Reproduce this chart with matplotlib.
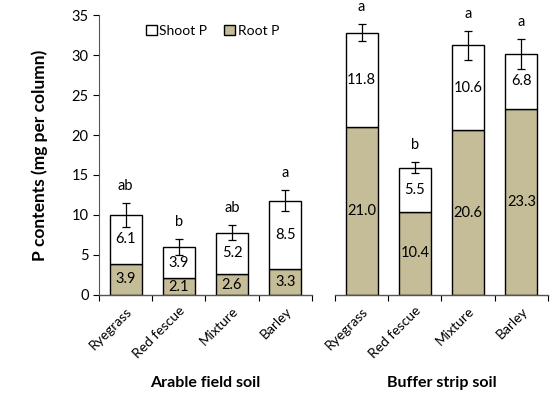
import matplotlib
matplotlib.use("Agg")
import matplotlib.pyplot as plt
from matplotlib.patches import Patch
from matplotlib.transforms import ScaledTranslation

plt.rcParams['font.family'] = ['Lato', 'DejaVu Sans']

categories = ["Ryegrass", "Red fescue", "Mixture", "Barley"]
arable_root = [3.9, 2.1, 2.6, 3.3]
arable_shoot = [6.1, 3.9, 5.2, 8.5]
arable_err = [1.5, 1.0, 0.9, 1.35]
arable_letters = ["ab", "b", "ab", "a"]
buffer_root = [21.0, 10.4, 20.6, 23.3]
buffer_shoot = [11.8, 5.5, 10.6, 6.8]
buffer_err = [1.1, 0.7, 1.8, 1.9]
buffer_letters = ["a", "b", "a", "a"]

root_color = "#C4BD97"

fig = plt.figure(figsize=(5.5, 3.93), dpi=100)
ax1 = fig.add_axes([0.18, 0.2494, 0.387, 0.7124])
ax2 = fig.add_axes([0.609, 0.2494, 0.3874, 0.7124])

def draw(ax, root, shoot, err, letters, title, show_y):
    x = [i + 0.5 for i in range(len(categories))]
    ax.bar(x, root, width=0.6, color=root_color, edgecolor="black", linewidth=1.0, zorder=2)
    tot = [r + s for r, s in zip(root, shoot)]
    ax.bar(x, shoot, width=0.6, bottom=root, color="white", edgecolor="black", linewidth=1.0, zorder=2)
    ax.errorbar(x, tot, yerr=err, fmt="none", ecolor="black", elinewidth=0.9, capsize=3, capthick=0.9, zorder=3)
    for xi, r, s, t, e, l in zip(x, root, shoot, tot, err, letters):
        ax.text(xi, r / 2, f"{r:.1f}", ha="center", va="center", fontsize=10.5)
        ax.text(xi, r + s / 2, f"{s:.1f}", ha="center", va="center", fontsize=10.5)
        ax.text(xi, t + e + 2.15, l, ha="center", va="center", fontsize=10.5, clip_on=False)
    ax.set_xlim(0, 4)
    ax.set_ylim(0, 35)
    ax.set_xticks([0, 1, 2, 3, 4])
    ax.set_xticklabels([])
    ax.tick_params(axis="x", which="major", direction="out", length=4, width=0.8)
    ax.set_xticks(x, minor=True)
    labs = ax.set_xticklabels(categories, minor=True, rotation=45, ha="right",
                              rotation_mode="anchor", fontsize=10)
    off = ScaledTranslation(6 / 100, 0, fig.dpi_scale_trans)
    for t in labs:
        t.set_transform(t.get_transform() + off)
    ax.tick_params(axis="x", which="minor", length=0, pad=7)
    for s in ["top", "right"]:
        ax.spines[s].set_visible(False)
    ax.spines["bottom"].set_color("#555555")
    ax.spines["bottom"].set_linewidth(1.0)
    if show_y:
        ax.set_yticks(range(0, 36, 5))
        ax.tick_params(axis="y", direction="out", length=4, width=0.8, labelsize=10.5)
        ax.spines["left"].set_color("#555555")
        ax.set_ylabel("P contents (mg per column)", fontsize=12.5, fontweight="bold", labelpad=17)
    else:
        ax.spines["left"].set_visible(False)
        ax.set_yticks([])
    pos = ax.get_position()
    fig.text((pos.x0 + pos.x1) / 2, 1 - 383 / 393, title, ha="center", va="center",
             fontsize=11.5, fontweight="bold")

draw(ax1, arable_root, arable_shoot, arable_err, arable_letters, "Arable field soil", True)
draw(ax2, buffer_root, buffer_shoot, buffer_err, buffer_letters, "Buffer strip soil", False)

handles = [Patch(facecolor="white", edgecolor="black", label="Shoot P"),
           Patch(facecolor=root_color, edgecolor="black", label="Root P")]
ax1.legend(handles=handles, ncol=2, frameon=False, loc="upper left", bbox_to_anchor=(0.16, 1.01),
           fontsize=10, handlelength=0.8, handleheight=0.8, handletextpad=0.2, columnspacing=1.2)

fig.savefig("out.png", dpi=100)
